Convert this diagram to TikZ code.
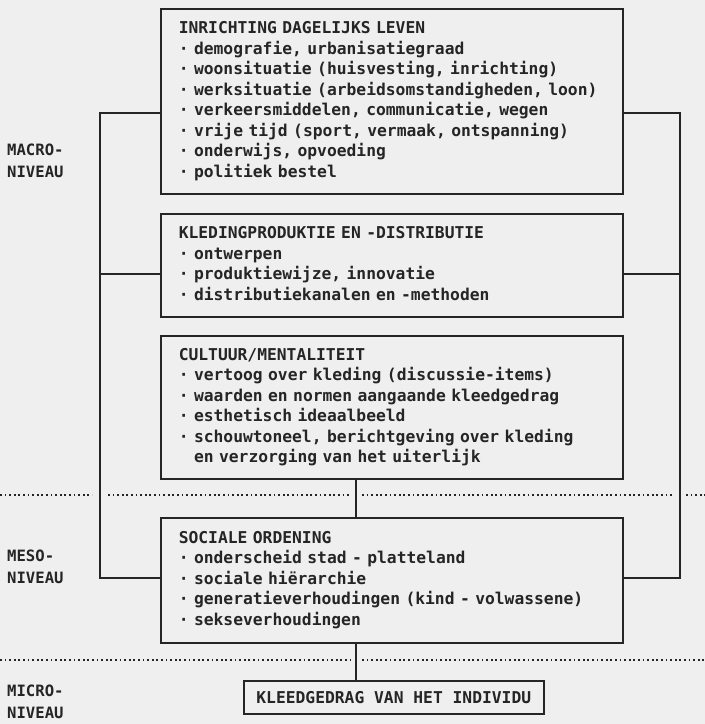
\documentclass[tikz,border=0pt]{standalone}
\usepackage{fontspec}
\newfontfamily\pf{DejaVu Sans Mono}
\usetikzlibrary{calc}
\definecolor{bg}{HTML}{EFEFEF}
\definecolor{ink}{HTML}{252525}
\newcommand{\lines}[1]{\begin{tabular}{@{}l@{}}#1\end{tabular}}
\begin{document}
\begin{tikzpicture}[x=1pt,y=-1pt,
  box/.style={draw=ink, line width=1.6pt, fill=bg, anchor=north west, inner xsep=18pt, inner ysep=0pt, align=left, font=\pf\bfseries\fontsize{16.3pt}{20.5pt}\selectfont, text=ink},
  lvl/.style={anchor=west, font=\pf\bfseries\fontsize{15.6pt}{22pt}\selectfont, align=left, inner sep=0pt, text=ink},
  frame/.style={draw=ink, line width=1.6pt},
  dots/.style={draw=ink, line width=1.7pt, dash pattern=on 1.7pt off 2.9pt}]
\fill[bg] (0,0) rectangle (705,724);
\useasboundingbox (0,0) rectangle (705,724);
% outer frame of the macro level
\coordinate (ftl) at (100,113);
\coordinate (fbr) at (680,578);
\draw[frame] (ftl) rectangle (fbr);
\draw[frame] (100,274) -- (680,274);
% boxes
\node[box, text width=426pt, minimum height=185pt] (b1) at (160,8) {\lines{INRICHTING DAGELIJKS LEVEN\\
· demografie, urbanisatiegraad\\
· woonsituatie (huisvesting, inrichting)\\
· werksituatie (arbeidsomstandigheden, loon)\\
· verkeersmiddelen, communicatie, wegen\\
· vrije tijd (sport, vermaak, ontspanning)\\
· onderwijs, opvoeding\\
· politiek bestel}};
\node[box, text width=426pt, minimum height=103pt] (b2) at (160,213) {\lines{KLEDINGPRODUKTIE EN -DISTRIBUTIE\\
· ontwerpen\\
· produktiewijze, innovatie\\
· distributiekanalen en -methoden}};
\node[box, text width=426pt, minimum height=143pt] (b3) at (160,335) {\lines{CULTUUR/MENTALITEIT\\
· vertoog over kleding (discussie-items)\\
· waarden en normen aangaande kleedgedrag\\
· esthetisch ideaalbeeld\\
· schouwtoneel, berichtgeving over kleding\\
\phantom{· }en verzorging van het uiterlijk}};
\node[box, text width=426pt, minimum height=125pt] (b4) at (160,517) {\lines{SOCIALE ORDENING\\
· onderscheid stad - platteland\\
· sociale hiërarchie\\
· generatieverhoudingen (kind - volwassene)\\
· sekseverhoudingen}};
\node[box, inner xsep=10pt, minimum width=300pt, minimum height=33pt, align=center] (b5) at (243,680) {KLEEDGEDRAG VAN HET INDIVIDU};
% connectors
\coordinate (vx) at (356,0);
\draw[frame] (vx |- b3.south) -- (vx |- b4.north);
\draw[frame] (vx |- b4.south) -- (vx |- b5.north);
% level separators
\draw[dots] (0,495) -- (92,495) (108,495) -- (350,495) (362,495) -- (674,495) (686,495) -- (705,495);
\draw[dots] (0,660) -- (350,660) (362,660) -- (705,660);
% level labels
\node[lvl] (macro) at (7,161) {MACRO-\\NIVEAU};
\node[lvl] (meso) at (7,567) {MESO-\\NIVEAU};
\node[lvl] (micro) at (7,702) {MICRO-\\NIVEAU};
\end{tikzpicture}
\end{document}
